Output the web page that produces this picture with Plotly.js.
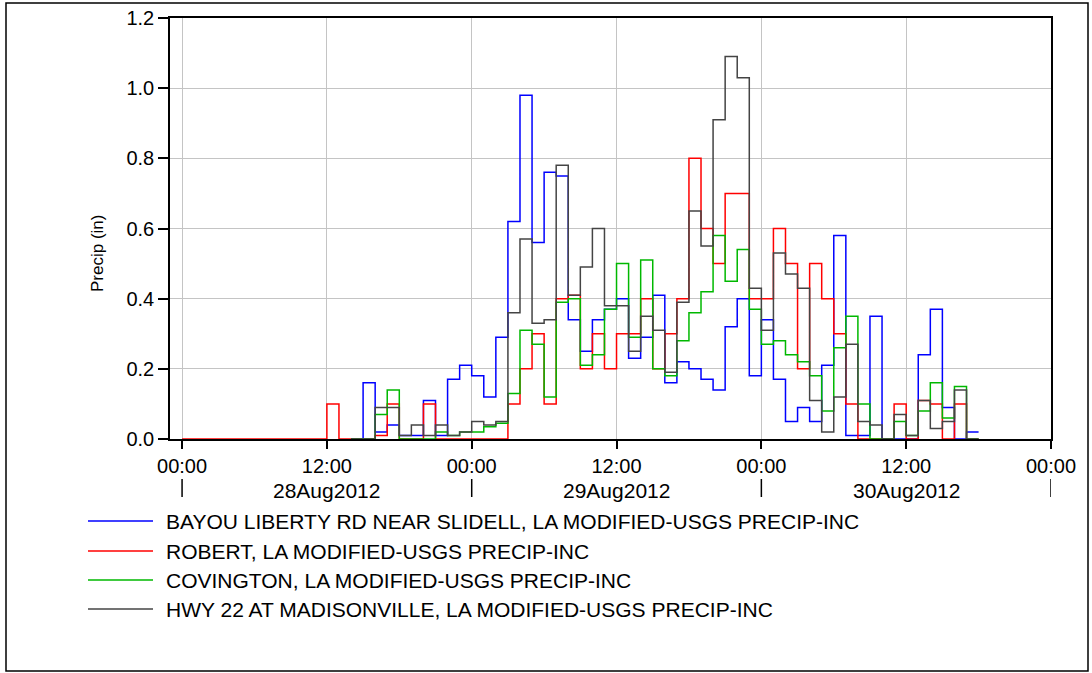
<!DOCTYPE html>
<html>
<head>
<meta charset="utf-8">
<script src="https://cdn.plot.ly/plotly-3.0.1.min.js"></script>
<style>
  html, body { margin: 0; padding: 0; background: #ffffff; }
  #chart { width: 1092px; height: 673px; }
</style>
</head>
<body>
<div id="chart"></div>
<script>
// ---- Data (hourly incremental precipitation, inches) ----
// Each series starts at the given hour offset from 28Aug2012 00:00.
const seriesNames = [
  "BAYOU LIBERTY RD NEAR SLIDELL, LA MODIFIED-USGS PRECIP-INC",
  "ROBERT, LA MODIFIED-USGS PRECIP-INC",
  "COVINGTON, LA MODIFIED-USGS PRECIP-INC",
  "HWY 22 AT MADISONVILLE, LA MODIFIED-USGS PRECIP-INC"
];
const seriesColors = ["#0000ff", "#ff0000", "#00b800", "#444444"];

const blueStart = 14;
const blueValues = [0, 0.16, 0.02, 0.04, 0.01, 0.01, 0.11, 0.01, 0.17, 0.21,
  0.18, 0.12, 0.29, 0.62, 0.98, 0.56, 0.76, 0.75, 0.34, 0.25,
  0.34, 0.37, 0.40, 0.23, 0.29, 0.41, 0.16, 0.22, 0.20, 0.17,
  0.14, 0.32, 0.40, 0.18, 0.34, 0.17, 0.05, 0.09, 0.05, 0.21,
  0.58, 0.01, 0.01, 0.35, 0, 0, 0, 0.24, 0.37, 0.09,
  0, 0.02];

const redStart = 0;
const redValues = [0, 0, 0, 0, 0, 0, 0, 0, 0, 0, 0, 0,
  0.10, 0, 0, 0, 0.01, 0.10, 0, 0, 0.10, 0, 0, 0,
  0, 0, 0, 0.10, 0.20, 0.30, 0.10, 0.40, 0.41, 0.20,
  0.30, 0.20, 0.30, 0.30, 0.40, 0.20, 0.30, 0.40, 0.80, 0.60,
  0.50, 0.70, 0.70, 0.40, 0.40, 0.60, 0.50, 0.20, 0.50, 0.40,
  0.30, 0.10, 0, 0, 0, 0.10, 0, 0.11, 0.10, 0,
  0.10, 0];

const greenStart = 14;
const greenValues = [0, 0, 0.07, 0.14, 0, 0, 0, 0.02, 0.01, 0.02,
  0.02, 0.035, 0.045, 0.13, 0.31, 0.27, 0.12, 0.39, 0.40, 0.21,
  0.24, 0.37, 0.50, 0.29, 0.51, 0.20, 0.18, 0.28, 0.36, 0.42,
  0.58, 0.45, 0.54, 0.37, 0.27, 0.28, 0.24, 0.22, 0.18, 0.08,
  0.26, 0.35, 0.10, 0, 0, 0.05, 0.01, 0.08, 0.16, 0.06,
  0.15, 0];

const blackStart = 14;
const blackValues = [0, 0, 0.09, 0.09, 0.01, 0.04, 0.01, 0.04, 0.01, 0.02,
  0.05, 0.04, 0.05, 0.36, 0.57, 0.33, 0.34, 0.78, 0.41, 0.49,
  0.60, 0.38, 0.38, 0.25, 0.35, 0.31, 0.19, 0.39, 0.65, 0.55,
  0.91, 1.09, 1.03, 0.43, 0.31, 0.53, 0.47, 0.43, 0.11, 0.02,
  0.12, 0.27, 0.05, 0.04, 0, 0.07, 0.01, 0.11, 0.03, 0.05,
  0.14, 0];

// Axis ticks
const tickHours = [0, 12, 24, 36, 48, 60, 72];
const tickLabels = ["00:00", "12:00", "00:00", "12:00", "00:00", "12:00", "00:00"];
const dayBoundaryHours = [0, 24, 48, 72];
const dayLabelHours = [12, 36, 60];
const dayLabels = ["28Aug2012", "29Aug2012", "30Aug2012"];
const yTicks = [0, 0.2, 0.4, 0.6, 0.8, 1.0, 1.2];
const yTitle = "Precip (in)";

// ---- helpers ----
function hourToDate(h) {
  const d = new Date(Date.UTC(2012, 7, 28, 0) + h * 3600000);
  return d.toISOString().slice(0, 16).replace("T", " ");
}
function stepTrace(start, values, name, color) {
  const x = values.map((v, i) => hourToDate(start + i));
  x.push(hourToDate(start + values.length));
  const y = values.slice();
  y.push(values[values.length - 1]);
  return {
    type: "scatter", mode: "lines", name: name,
    x: x, y: y,
    line: { shape: "hv", color: color, width: 1.5 },
    showlegend: false, hoverinfo: "x+y+name"
  };
}

const traces = [
  stepTrace(blueStart, blueValues, seriesNames[0], seriesColors[0]),
  stepTrace(redStart, redValues, seriesNames[1], seriesColors[1]),
  stepTrace(greenStart, greenValues, seriesNames[2], seriesColors[2]),
  stepTrace(blackStart, blackValues, seriesNames[3], seriesColors[3])
];

// ---- layout geometry (pixels -> paper) ----
const W = 1092, H = 673;
const L = 170, R = 1051, T = 18, B = 439;
const pw = R - L, ph = B - T;
const px = (X) => (X - L) / pw;
const py = (Y) => (B - Y) / ph;

const FONT = "Liberation Sans, Arial, Helvetica, sans-serif";
const shapes = [];
const annotations = [];

// outer frame
shapes.push({ type: "rect", xref: "paper", yref: "paper",
  x0: px(6), x1: px(1088), y0: py(3), y1: py(671),
  line: { color: "#000000", width: 1.5 }, fillcolor: "rgba(0,0,0,0)", layer: "below" });

// y-axis title (sits slightly below the plot's middle in the original)
annotations.push({ xref: "paper", yref: "paper", x: px(97), y: py(254),
  text: yTitle, textangle: -90, showarrow: false, xanchor: "center", yanchor: "middle",
  font: { family: FONT, size: 17, color: "#000000" } });

// second row of x labels: day separators and dates
dayBoundaryHours.forEach(h => {
  shapes.push({ type: "line", xref: "x", yref: "paper",
    x0: hourToDate(h), x1: hourToDate(h), y0: py(479), y1: py(497),
    line: { color: "#000000", width: 1.5 } });
});
dayLabelHours.forEach((h, i) => {
  annotations.push({ xref: "x", yref: "paper", x: hourToDate(h), y: py(490),
    text: dayLabels[i], showarrow: false, xanchor: "center", yanchor: "middle",
    font: { family: FONT, size: 21, color: "#000000" } });
});

// legend (drawn below the plot)
const legendRows = [521, 551, 580, 609];
seriesNames.forEach((name, i) => {
  shapes.push({ type: "line", xref: "paper", yref: "paper",
    x0: px(88), x1: px(153), y0: py(legendRows[i]), y1: py(legendRows[i]),
    line: { color: seriesColors[i], width: 1.5 } });
  annotations.push({ xref: "paper", yref: "paper", x: px(164), y: py(legendRows[i]),
    text: name, showarrow: false, xanchor: "left", yanchor: "middle",
    font: { family: FONT, size: 21, color: "#000000" } });
});

const layout = {
  width: W, height: H,
  margin: { l: L, r: W - R, t: T, b: H - B, pad: 0 },
  paper_bgcolor: "#ffffff", plot_bgcolor: "#ffffff",
  font: { family: FONT, size: 20, color: "#000000" },
  showlegend: false,
  xaxis: {
    type: "date",
    range: [hourToDate(-1), hourToDate(72)],
    tickmode: "array",
    tickvals: tickHours.map(hourToDate),
    ticktext: tickLabels,
    ticks: "outside", ticklen: 8, tickwidth: 1.5, tickcolor: "#000000",
    showgrid: true, gridcolor: "#c4c4c4", gridwidth: 1,
    showline: true, linecolor: "#000000", linewidth: 1.5, mirror: true,
    zeroline: false,
    tickfont: { family: FONT, size: 20, color: "#000000" }
  },
  yaxis: {
    range: [0, 1.2],
    tickmode: "array",
    tickvals: yTicks,
    ticktext: yTicks.map(v => v.toFixed(1)),
    ticks: "outside", ticklen: 10, tickwidth: 1.5, tickcolor: "#000000",
    showgrid: true, gridcolor: "#c4c4c4", gridwidth: 1,
    showline: true, linecolor: "#000000", linewidth: 1.5, mirror: true,
    zeroline: false,
    tickfont: { family: FONT, size: 20, color: "#000000" }
  },
  shapes: shapes,
  annotations: annotations
};

Plotly.newPlot("chart", traces, layout, { displayModeBar: false, responsive: false });
</script>
</body>
</html>
